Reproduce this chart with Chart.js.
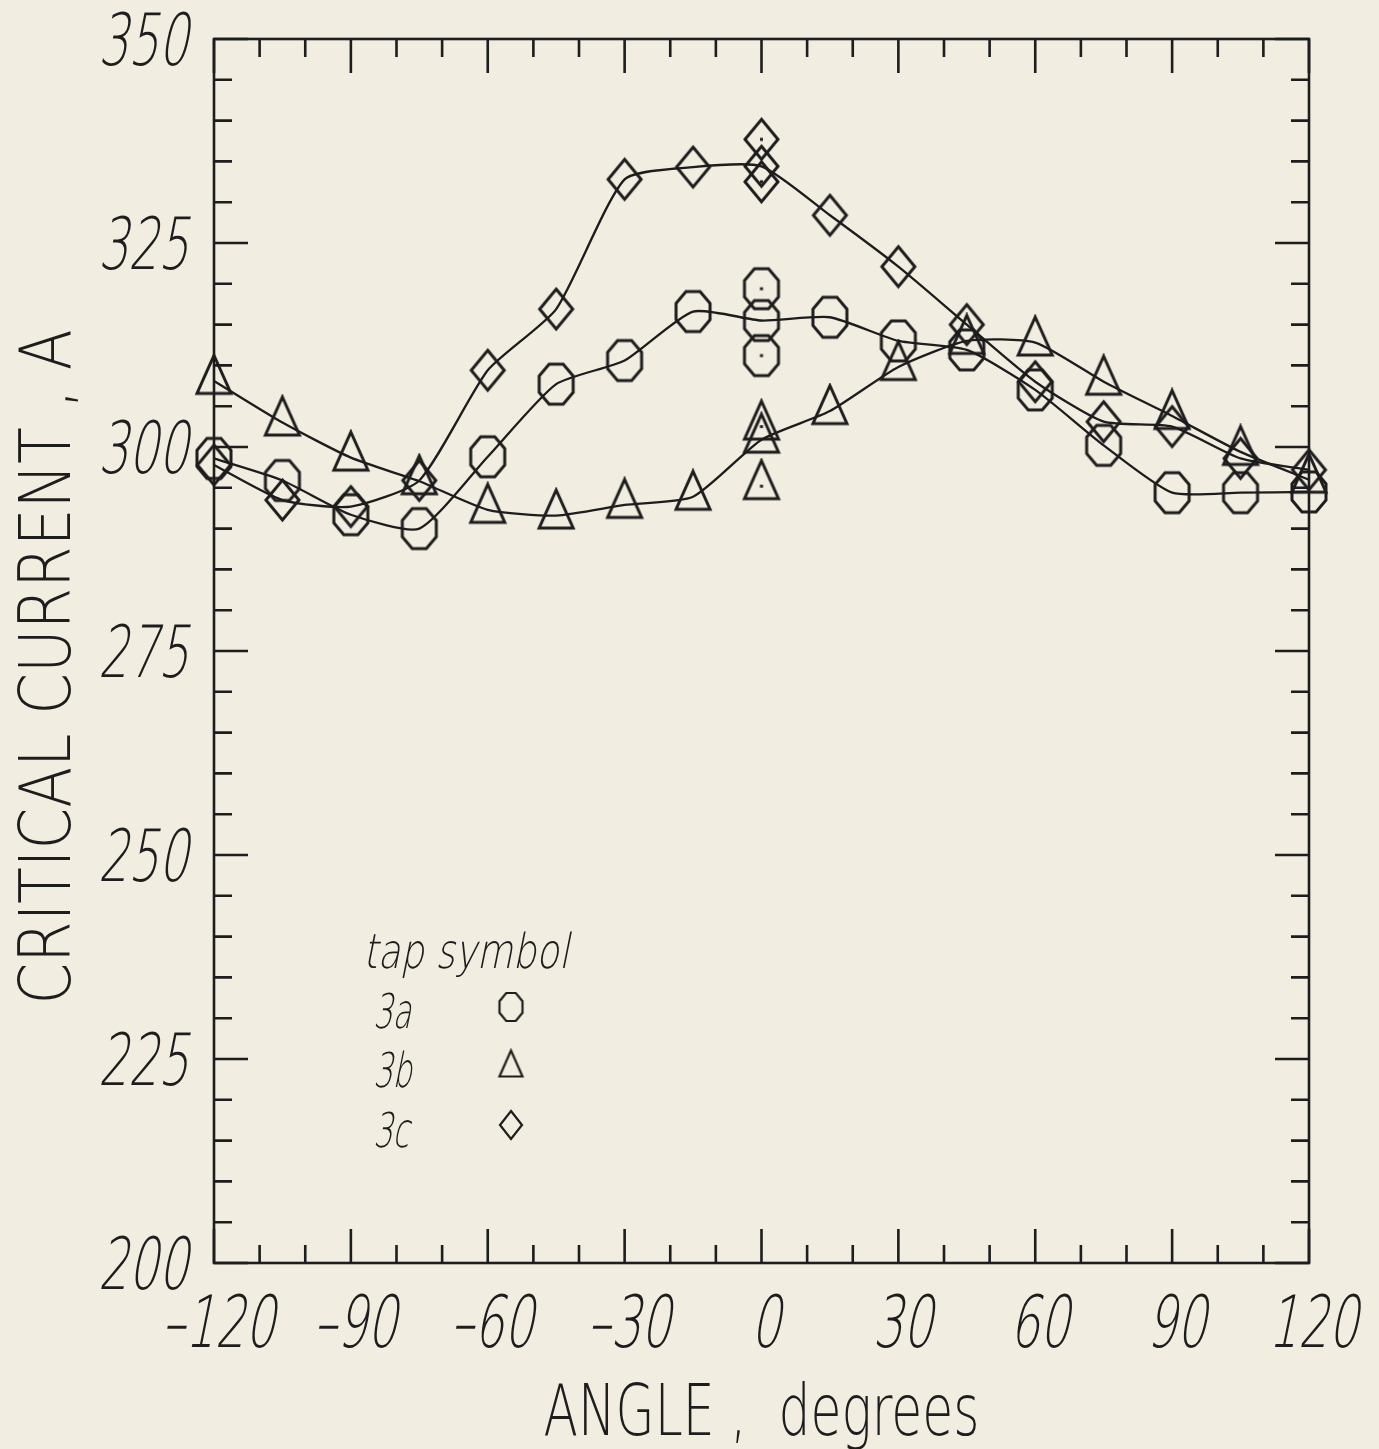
<!DOCTYPE html>
<html>
<head>
<meta charset="utf-8">
<title>Critical current vs angle</title>
<script src="https://cdn.jsdelivr.net/npm/chart.js@4"></script>
<style>
  html, body { margin: 0; padding: 0; background: #f1ede1; }
  canvas { display: block; }
</style>
</head>
<body>
<canvas id="myChart" width="1379" height="1449"></canvas>
<script>
'use strict';

// angle of the sample, degrees
const angles = [-120, -105, -90, -75, -60, -45, -30, -15, 0, 15, 30, 45, 60, 75, 90, 105, 120];

// critical current, A, per voltage tap
const tap3a = [298.6, 295.9, 291.7, 290.0, 298.8, 307.7, 310.6, 316.6, 315.5, 315.9, 313.0, 311.9, 307.0, 300.2, 294.4, 294.4, 294.5];
const tap3b = [308.1, 303.0, 298.7, 295.8, 292.3, 291.6, 292.9, 293.9, 300.9, 304.4, 309.8, 313.0, 312.8, 308.0, 303.8, 299.4, 296.0];
const tap3c = [297.8, 293.5, 292.7, 295.9, 309.4, 316.9, 332.8, 334.3, 334.4, 328.4, 322.1, 315.0, 308.0, 303.1, 302.5, 298.6, 297.2];

// repeated measurements at 0 degrees
const repeatAngles = [0, 0];
const repeat3a = [319.4, 311.2];
const repeat3b = [302.5, 295.2];
const repeat3c = [337.7, 332.5];

// tick labels
const xTickValues = [-120, -90, -60, -30, 0, 30, 60, 90, 120];
const yTickValues = [200, 225, 250, 275, 300, 325, 350];

const legendRows = ['3a', '3b', '3c'];

const INK = '#1d1d1d';
const FONT = "'DejaVu Sans', 'Liberation Sans', sans-serif";
const SLANT = 0.2;

// plotter-like hollow markers drawn on small canvases
function makeMarker(kind, w, h, dot, lw) {
  const pad = 3;
  const c = document.createElement('canvas');
  let ch = h + pad * 2;
  if (kind === 'triangle') {
    // keep the centroid in the middle of the image
    ch = Math.round(h * 4 / 3) + pad * 2;
  }
  c.width = w + pad * 2;
  c.height = ch;
  const g = c.getContext('2d');
  g.strokeStyle = INK;
  g.lineWidth = lw;
  const l = pad, t = pad;
  g.beginPath();
  if (kind === 'octagon') {
    const k = 0.293;
    g.moveTo(l + w * k, t);
    g.lineTo(l + w * (1 - k), t);
    g.lineTo(l + w, t + h * k);
    g.lineTo(l + w, t + h * (1 - k));
    g.lineTo(l + w * (1 - k), t + h);
    g.lineTo(l + w * k, t + h);
    g.lineTo(l, t + h * (1 - k));
    g.lineTo(l, t + h * k);
  } else if (kind === 'triangle') {
    g.moveTo(l + w / 2, t);
    g.lineTo(l + w, t + h);
    g.lineTo(l, t + h);
  } else {
    g.moveTo(l + w / 2, t);
    g.lineTo(l + w, t + h / 2);
    g.lineTo(l + w / 2, t + h);
    g.lineTo(l, t + h / 2);
  }
  g.closePath();
  g.stroke();
  if (dot) {
    g.fillStyle = INK;
    g.fillRect(c.width / 2 - 1.5, c.height / 2 - 1.5, 3, 3);
  }
  return c;
}

const octagon = makeMarker('octagon', 34, 40, false, 3);
const triangle = makeMarker('triangle', 34, 38, false, 3);
const diamond = makeMarker('diamond', 33, 40, false, 3);
const octagonDot = makeMarker('octagon', 34, 40, true, 3);
const triangleDot = makeMarker('triangle', 34, 38, true, 3);
const diamondDot = makeMarker('diamond', 33, 40, true, 3);
const legendMarkers = [
  makeMarker('octagon', 23, 28, false, 2.2),
  makeMarker('triangle', 23, 26, false, 2.2),
  makeMarker('diamond', 22, 28, false, 2.2),
];

function toPoints(xs, ys) {
  return xs.map((x, i) => ({ x: x, y: ys[i] }));
}

function curve(label, ys, marker) {
  return {
    label: label,
    data: toPoints(angles, ys),
    showLine: true,
    borderColor: INK,
    borderWidth: 2.3,
    tension: 0.2,
    pointStyle: marker,
    pointRadius: 18,
    pointHoverRadius: 18,
    clip: false,
  };
}

function repeats(label, ys, marker) {
  return {
    label: label,
    data: toPoints(repeatAngles, ys),
    showLine: false,
    pointStyle: marker,
    pointRadius: 18,
    pointHoverRadius: 18,
    clip: false,
  };
}

// narrow (and optionally slanted) lettering, like the plotter font
function letter(ctx, text, x, y, sx, align, slant) {
  ctx.save();
  ctx.translate(x, y);
  ctx.transform(sx, 0, -slant, 1, 0, 0);
  ctx.textAlign = align;
  ctx.fillText(text, 0, 0);
  ctx.restore();
}

function fitText(ctx, text, x, y, width, align, slant) {
  letter(ctx, text, x, y, width / ctx.measureText(text).width, align, slant);
}

const background = {
  id: 'background',
  beforeDraw(chart) {
    const ctx = chart.ctx;
    ctx.save();
    ctx.fillStyle = '#f1ede1';
    ctx.fillRect(0, 0, chart.width, chart.height);
    ctx.restore();
  },
};

// frame with inward ticks on all four sides, plus the axis lettering
const frame = {
  id: 'frame',
  beforeDatasetsDraw(chart) {
    const { ctx, chartArea: a, scales } = chart;
    const x = scales.x, y = scales.y;
    ctx.save();
    ctx.strokeStyle = INK;
    ctx.lineWidth = 2.6;
    ctx.strokeRect(a.left, a.top, a.right - a.left, a.bottom - a.top);
    ctx.beginPath();
    for (let v = -120; v <= 120; v += 10) {
      const px = x.getPixelForValue(v);
      const len = v % 30 === 0 ? 34 : 18;
      ctx.moveTo(px, a.bottom);
      ctx.lineTo(px, a.bottom - len);
      ctx.moveTo(px, a.top);
      ctx.lineTo(px, a.top + len);
    }
    for (let v = 200; v <= 350; v += 5) {
      const py = y.getPixelForValue(v);
      const len = v % 25 === 0 ? 34 : 18;
      ctx.moveTo(a.left, py);
      ctx.lineTo(a.left + len, py);
      ctx.moveTo(a.right, py);
      ctx.lineTo(a.right - len, py);
    }
    ctx.stroke();

    ctx.fillStyle = INK;
    ctx.textBaseline = 'alphabetic';
    ctx.font = '200 72px ' + FONT;
    const sx = 90 / ctx.measureText('350').width;
    yTickValues.forEach(v => {
      letter(ctx, String(v), a.left - 26, y.getPixelForValue(v) + 26, sx, 'right', SLANT);
    });
    xTickValues.forEach(v => {
      const label = v < 0 ? '\u2013' + Math.abs(v) : String(v);
      letter(ctx, label, x.getPixelForValue(v) + 4, a.bottom + 84, sx, 'center', SLANT);
    });

    fitText(ctx, 'ANGLE ,  degrees', (a.left + a.right) / 2, 1435, 436, 'center', 0);
    ctx.save();
    ctx.translate(70, 667);
    ctx.rotate(-Math.PI / 2);
    fitText(ctx, 'CRITICAL CURRENT , A', 0, 0, 675, 'center', 0);
    ctx.restore();
    ctx.restore();
  },
};

const tapLegend = {
  id: 'tapLegend',
  afterDraw(chart) {
    const ctx = chart.ctx;
    ctx.save();
    ctx.fillStyle = INK;
    ctx.font = '200 48px ' + FONT;
    ctx.textBaseline = 'alphabetic';
    fitText(ctx, 'tap symbol', 363, 968, 206, 'left', SLANT);
    const baselines = [1028, 1087, 1147];
    const centers = [1007, 1068, 1125];
    const sx = 38 / ctx.measureText('3a').width;
    legendRows.forEach((row, i) => {
      letter(ctx, row, 373, baselines[i], sx, 'left', SLANT);
      const m = legendMarkers[i];
      ctx.drawImage(m, 511 - m.width / 2, centers[i] - m.height / 2);
    });
    ctx.restore();
  },
};

const data = {
  datasets: [
    curve('3a', tap3a, octagon),
    curve('3b', tap3b, triangle),
    curve('3c', tap3c, diamond),
    repeats('3a repeat', repeat3a, octagonDot),
    repeats('3b repeat', repeat3b, triangleDot),
    repeats('3c repeat', repeat3c, diamondDot),
  ],
};

const config = {
  type: 'scatter',
  data: data,
  options: {
    responsive: false,
    animation: false,
    events: [],
    layout: { padding: { top: 39, right: 70, left: 0, bottom: 0 } },
    plugins: {
      legend: { display: false },
      tooltip: { enabled: false },
    },
    scales: {
      x: {
        type: 'linear',
        min: -120,
        max: 120,
        afterBuildTicks(scale) {
          scale.ticks = xTickValues.map(v => ({ value: v }));
        },
        afterFit(scale) { scale.height = 186; },
        grid: { display: false, drawTicks: false },
        border: { display: false },
        ticks: { display: false },
      },
      y: {
        type: 'linear',
        min: 200,
        max: 350,
        afterBuildTicks(scale) {
          scale.ticks = yTickValues.map(v => ({ value: v }));
        },
        afterFit(scale) { scale.width = 214; },
        grid: { display: false, drawTicks: false },
        border: { display: false },
        ticks: { display: false },
      },
    },
  },
  plugins: [background, frame, tapLegend],
};

const myChart = new Chart(document.getElementById('myChart'), config);
</script>
</body>
</html>
